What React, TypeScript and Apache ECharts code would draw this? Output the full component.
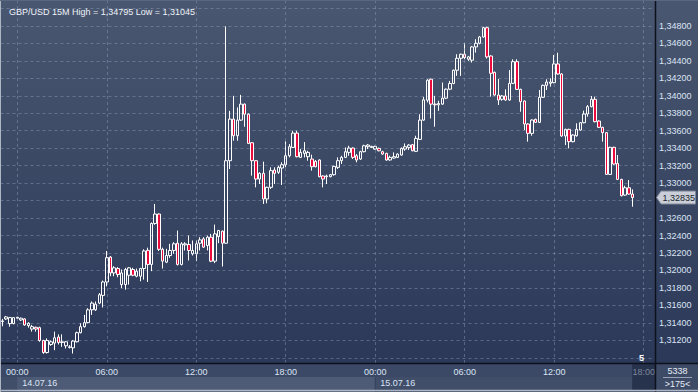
import { useEffect, useRef } from 'react';
import * as echarts from 'echarts';

// ---- data -----------------------------------------------------------------
const FIRST_SLOT_UTC = Date.UTC(2016, 6, 13, 23, 0); // 13.07.16 23:00, 15-minute bars
const SLOT_MINUTES = 15;
const SLOT_COUNT = 175; // visible bars (">175<")

const opens = [
  1.31414, 1.31445, 1.31391, 1.31391, 1.31453, 1.31433, 1.31445, 1.31368, 1.31329, 1.31349,
  1.31345, 1.31198, 1.31060, 1.31152, 1.31168, 1.31237, 1.31175, 1.31137, 1.31118, 1.31114,
  1.31183, 1.31287, 1.31356, 1.31402, 1.31549, 1.31549, 1.31626, 1.31714, 1.31868, 1.32153,
  1.31972, 1.32022, 1.31838, 1.31838, 1.31945, 1.32011, 1.31934, 1.31934, 1.32022, 1.32230,
  1.32069, 1.32538, 1.32646, 1.32242, 1.32095, 1.32171, 1.32229, 1.32312, 1.32069, 1.32293,
  1.32297, 1.32191, 1.32191, 1.32312, 1.32362, 1.32286, 1.32381, 1.32106, 1.32388, 1.32450,
  1.32312, 1.33257, 1.33733, 1.33543, 1.33722, 1.33905, 1.33790, 1.33463, 1.33257, 1.33047,
  1.33112, 1.32819, 1.32952, 1.33150, 1.33124, 1.33173, 1.33211, 1.33314, 1.33409, 1.33573,
  1.33295, 1.33341, 1.33303, 1.33276, 1.33249, 1.33265, 1.33082, 1.33074, 1.33074, 1.33097,
  1.33181, 1.33257, 1.33295, 1.33352, 1.33402, 1.33314, 1.33276, 1.33360, 1.33417, 1.33409,
  1.33390, 1.33398, 1.33360, 1.33341, 1.33265, 1.33287, 1.33295, 1.33322, 1.33390, 1.33409,
  1.33440, 1.33364, 1.33501, 1.33722, 1.33950, 1.34190, 1.33905, 1.33897, 1.33905, 1.33973,
  1.34076, 1.34141, 1.34293, 1.34430, 1.34476, 1.34419, 1.34408, 1.34560, 1.34602, 1.34674,
  1.34780, 1.34456, 1.34269, 1.34009, 1.33960, 1.33998, 1.33952, 1.34143, 1.34391, 1.34074,
  1.33941, 1.33677, 1.33570, 1.33731, 1.33696, 1.33983, 1.34120, 1.34143, 1.34151, 1.34365,
  1.34250, 1.33540, 1.33616, 1.33475, 1.33543, 1.33608, 1.33692, 1.33792, 1.33876, 1.33960,
  1.33711, 1.33639, 1.33578, 1.33100, 1.33410, 1.33226, 1.33043, 1.32863, 1.32947, 1.32875,
];
const closes = [
  1.31422, 1.31468, 1.31460, 1.31460, 1.31464, 1.31453, 1.31376, 1.31395, 1.31356, 1.31329,
  1.31198, 1.31060, 1.31198, 1.31183, 1.31229, 1.31175, 1.31183, 1.31183, 1.31125, 1.31191,
  1.31287, 1.31356, 1.31402, 1.31549, 1.31626, 1.31614, 1.31722, 1.31868, 1.32146, 1.31972,
  1.32030, 1.31953, 1.31972, 1.32011, 1.32030, 1.31945, 1.31992, 1.32022, 1.32223, 1.32069,
  1.32538, 1.32646, 1.32242, 1.32107, 1.32171, 1.32229, 1.32305, 1.32069, 1.32305, 1.32305,
  1.32229, 1.32229, 1.32305, 1.32350, 1.32267, 1.32381, 1.32106, 1.32419, 1.32457, 1.32312,
  1.33257, 1.33733, 1.33543, 1.33722, 1.33905, 1.33790, 1.33455, 1.33257, 1.33047, 1.33112,
  1.32819, 1.32952, 1.33143, 1.33112, 1.33181, 1.33211, 1.33314, 1.33417, 1.33573, 1.33303,
  1.33352, 1.33371, 1.33352, 1.33188, 1.33188, 1.33074, 1.33047, 1.33082, 1.33097, 1.33192,
  1.33257, 1.33295, 1.33360, 1.33402, 1.33295, 1.33265, 1.33360, 1.33428, 1.33436, 1.33421,
  1.33421, 1.33371, 1.33333, 1.33265, 1.33295, 1.33303, 1.33333, 1.33398, 1.33417, 1.33436,
  1.33371, 1.33512, 1.33722, 1.33954, 1.34179, 1.33905, 1.33897, 1.33912, 1.33973, 1.34076,
  1.34141, 1.34293, 1.34430, 1.34476, 1.34438, 1.34446, 1.34560, 1.34602, 1.34674, 1.34780,
  1.34446, 1.34258, 1.34009, 1.33952, 1.33998, 1.33952, 1.34143, 1.34391, 1.34074, 1.33933,
  1.33677, 1.33570, 1.33723, 1.33696, 1.33983, 1.34120, 1.34158, 1.34158, 1.34365, 1.34250,
  1.33540, 1.33616, 1.33475, 1.33551, 1.33616, 1.33692, 1.33792, 1.33876, 1.33960, 1.33704,
  1.33639, 1.33578, 1.33100, 1.33410, 1.33219, 1.33043, 1.32856, 1.32947, 1.32875, 1.32835,
];
const lows = [
  1.31360, 1.31433, 1.31356, 1.31383, 1.31445, 1.31422, 1.31368, 1.31345, 1.31299, 1.31299,
  1.31183, 1.31045, 1.31048, 1.31137, 1.31087, 1.31152, 1.31125, 1.31106, 1.31106, 1.31048,
  1.31175, 1.31279, 1.31345, 1.31395, 1.31491, 1.31537, 1.31614, 1.31576, 1.31818, 1.31934,
  1.31934, 1.31922, 1.31799, 1.31780, 1.31838, 1.31934, 1.31922, 1.31876, 1.31895, 1.31868,
  1.31992, 1.32523, 1.32223, 1.32022, 1.32084, 1.32144, 1.32191, 1.32057, 1.32057, 1.32229,
  1.32114, 1.32171, 1.32106, 1.32229, 1.32259, 1.32229, 1.32095, 1.32084, 1.32312, 1.32045,
  1.32305, 1.33162, 1.33486, 1.33486, 1.33714, 1.33646, 1.33447, 1.33086, 1.32952, 1.32990,
  1.32762, 1.32769, 1.32933, 1.32990, 1.33105, 1.32979, 1.33181, 1.33295, 1.33402, 1.33295,
  1.33287, 1.33295, 1.33257, 1.33143, 1.33181, 1.33067, 1.32952, 1.32990, 1.33067, 1.33086,
  1.33162, 1.33219, 1.33287, 1.33314, 1.33276, 1.33238, 1.33265, 1.33352, 1.33390, 1.33402,
  1.33383, 1.33364, 1.33326, 1.33257, 1.33257, 1.33280, 1.33287, 1.33314, 1.33371, 1.33379,
  1.33364, 1.33356, 1.33493, 1.33714, 1.33924, 1.33741, 1.33646, 1.33828, 1.33897, 1.33962,
  1.34065, 1.34133, 1.34229, 1.34229, 1.34419, 1.34400, 1.34381, 1.34495, 1.34590, 1.34667,
  1.34427, 1.33990, 1.34002, 1.33895, 1.33944, 1.33944, 1.33944, 1.34135, 1.34067, 1.33818,
  1.33608, 1.33475, 1.33543, 1.33688, 1.33688, 1.33975, 1.34067, 1.34105, 1.34143, 1.34242,
  1.33532, 1.33436, 1.33398, 1.33467, 1.33532, 1.33601, 1.33685, 1.33761, 1.33868, 1.33696,
  1.33631, 1.33475, 1.33093, 1.33093, 1.33211, 1.33035, 1.32848, 1.32856, 1.32867, 1.32730,
];
const highs = [
  1.31445, 1.31479, 1.31468, 1.31460, 1.31468, 1.31460, 1.31453, 1.31406, 1.31376, 1.31356,
  1.31356, 1.31206, 1.31222, 1.31198, 1.31299, 1.31268, 1.31268, 1.31191, 1.31145, 1.31202,
  1.31299, 1.31395, 1.31491, 1.31568, 1.31645, 1.31645, 1.31741, 1.31884, 1.32223, 1.32165,
  1.32049, 1.32038, 1.32011, 1.32030, 1.32038, 1.32030, 1.32022, 1.32030, 1.32242, 1.32261,
  1.32550, 1.32762, 1.32654, 1.32261, 1.32248, 1.32305, 1.32324, 1.32457, 1.32324, 1.32324,
  1.32400, 1.32343, 1.32343, 1.32381, 1.32381, 1.32400, 1.32419, 1.32525, 1.32465, 1.32457,
  1.34795, 1.33828, 1.34000, 1.33867, 1.34011, 1.33912, 1.33798, 1.33470, 1.33265, 1.33124,
  1.33246, 1.32960, 1.33181, 1.33181, 1.33200, 1.33238, 1.33478, 1.33447, 1.33600, 1.33600,
  1.33390, 1.33470, 1.33371, 1.33326, 1.33265, 1.33272, 1.33089, 1.33097, 1.33105, 1.33200,
  1.33295, 1.33314, 1.33409, 1.33428, 1.33409, 1.33333, 1.33371, 1.33440, 1.33447, 1.33428,
  1.33428, 1.33406, 1.33371, 1.33348, 1.33314, 1.33352, 1.33341, 1.33409, 1.33455, 1.33447,
  1.33447, 1.33543, 1.33790, 1.33988, 1.34190, 1.34198, 1.34000, 1.33943, 1.34152, 1.34084,
  1.34171, 1.34301, 1.34476, 1.34484, 1.34602, 1.34457, 1.34571, 1.34648, 1.34686, 1.34790,
  1.34792, 1.34464, 1.34277, 1.34193, 1.34009, 1.34074, 1.34296, 1.34418, 1.34418, 1.34082,
  1.33948, 1.33685, 1.33731, 1.33738, 1.34067, 1.34128, 1.34189, 1.34200, 1.34468, 1.34494,
  1.34258, 1.33623, 1.33623, 1.33559, 1.33685, 1.33700, 1.33830, 1.33895, 1.33998, 1.33990,
  1.33719, 1.33646, 1.33585, 1.33417, 1.33417, 1.33322, 1.33050, 1.32970, 1.33035, 1.32928,
];

const Y_MIN = 1.3094;
const Y_MAX = 1.35086;
const Y_STEP = 0.002;
const Y_LABEL_MIN = 1.3115; // lowest printed level
const Y_LABEL_MAX = 1.3495; // highest printed level
const TITLE = 'GBP/USD 15M High = 1,34795 Low = 1,31045';
const BAR_TOTAL_TEXT = '5338';
const VISIBLE_TEXT = '>175<';
const SHIFT_TEXT = '5';

// ---- helpers --------------------------------------------------------------
const pad = (n: number) => (n < 10 ? '0' + n : '' + n);
const slots: string[] = Array.from({ length: SLOT_COUNT }, (_, i) => {
  const d = new Date(FIRST_SLOT_UTC + i * SLOT_MINUTES * 60000);
  return `${pad(d.getUTCDate())}.${pad(d.getUTCMonth() + 1)}.${pad(d.getUTCFullYear() % 100)} ${pad(
    d.getUTCHours()
  )}:${pad(d.getUTCMinutes())}`;
});
const timeOf = (v: string) => v.slice(9);
const dateOf = (v: string) => v.slice(0, 8);
const isSixHour = (v: string) => {
  const hh = +v.slice(9, 11);
  const mm = +v.slice(12, 14);
  return mm === 0 && hh % 6 === 0;
};
const isMidnight = (v: string) => timeOf(v) === '00:00';
const fmtPrice = (v: number) => v.toFixed(5).replace('.', ',');

const FONT = '"Liberation Sans", Arial, sans-serif';
const LABEL_COLOR = '#dbe5f4';
const GRID_COLOR = 'rgba(150,166,196,0.42)';
const W = 698;
const H = 392;
const AXIS_Y = 363;
const AXIS_X = 655;

export default function App() {
  const ref = useRef<HTMLDivElement>(null);

  useEffect(() => {
    if (!ref.current) return;
    document.body.style.margin = '0';
    const chart = echarts.init(ref.current, undefined, { renderer: 'svg', width: W, height: H });

    const candleData = opens.map((o, i) => [o, closes[i], lows[i], highs[i]]);
    const sixHourSlots = slots.filter(isSixHour);
    const lastClose = closes[closes.length - 1];

    chart.setOption({
      animation: false,
      backgroundColor: 'transparent',
      textStyle: { fontFamily: FONT },
      title: {
        text: TITLE,
        left: 4,
        top: 2,
        textStyle: { fontFamily: FONT, fontSize: 9, fontWeight: 'normal', color: '#eef3fa' },
      },
      grid: { left: 0.5, right: 45, top: 1, bottom: H - AXIS_Y, containLabel: false },
      xAxis: [
        {
          type: 'category',
          data: slots,
          boundaryGap: true,
          axisLine: { show: false },
          axisTick: { show: false },
          splitLine: { show: false },
          axisLabel: {
            interval: (_i: number, v: string) => isSixHour(v),
            formatter: (v: string, i: number) =>
              i >= opens.length ? `{g|${timeOf(v)}}` : timeOf(v),
            color: LABEL_COLOR,
            fontSize: 9,
            fontFamily: FONT,
            margin: 4,
            rich: { g: { color: '#7d879b', fontSize: 9, fontFamily: FONT } },
          },
        },
        {
          type: 'category',
          data: slots,
          boundaryGap: true,
          position: 'bottom',
          offset: 11,
          axisLine: { show: false },
          axisTick: { show: false },
          splitLine: { show: false },
          axisLabel: {
            interval: (_i: number, v: string) => isMidnight(v),
            formatter: (v: string) => dateOf(v),
            align: 'left',
            padding: [0, 0, 0, 5],
            color: LABEL_COLOR,
            fontSize: 9,
            fontFamily: FONT,
            margin: 4,
          },
        },
      ],
      yAxis: {
        type: 'value',
        position: 'right',
        min: Y_MIN,
        max: Y_MAX,
        splitNumber: 20,
        scale: true,
        axisLine: { show: false },
        axisTick: { show: false },
        splitLine: {
          show: true,
          showMinLine: false,
          showMaxLine: false,
          lineStyle: { color: GRID_COLOR, type: [3, 3], width: 1 },
        },
        axisLabel: {
          showMinLabel: false,
          showMaxLabel: false,
          margin: 6,
          color: LABEL_COLOR,
          fontSize: 9,
          fontFamily: FONT,
          formatter: (v: number) => {
            const k = Math.round(v / Y_STEP);
            if (Math.abs(k * Y_STEP - v) > 1e-7) return '';
            if (v > Y_LABEL_MAX || v < Y_LABEL_MIN) return '';
            // the last-price tag covers the level next to it
            if (Math.abs(v - lastClose) < 0.0009) return '';
            return fmtPrice(v);
          },
        },
      },
      series: [
        {
          type: 'candlestick',
          data: candleData,
          barWidth: 3,
          xAxisIndex: 0,
          yAxisIndex: 0,
          silent: true,
          itemStyle: {
            color: 'rgba(0,0,0,0)',
            color0: '#ea0a3c',
            borderColor: '#ffffff',
            borderColor0: '#ffffff',
            borderColorDoji: '#ffffff',
            borderWidth: 1,
          },
          markLine: {
            silent: true,
            symbol: ['none', 'none'],
            label: { show: false },
            lineStyle: { color: GRID_COLOR, type: [3, 3], width: 1 },
            data: sixHourSlots.map((s) => ({ xAxis: s })),
          },
        },
      ],
    });

    const px = (s: string) => chart.convertToPixel({ xAxisIndex: 0 }, s) as number;
    const firstMid = slots.findIndex(isMidnight);
    const secondMid = slots.findIndex((v, i) => i > firstMid && isMidnight(v));
    const x1 = px(slots[firstMid]);
    const x2 = px(slots[secondMid]);
    const futureX = px(slots[opens.length + 2]);
    const yTag = chart.convertToPixel({ yAxisIndex: 0 }, lastClose) as number;

    chart.setOption({
      graphic: [
        // bottom axis strip
        { type: 'rect', z: -10, shape: { x: 0, y: AXIS_Y, width: W, height: H - AXIS_Y }, style: { fill: '#3c4966' } },
        { type: 'rect', z: -9, shape: { x: 0, y: 377, width: W, height: H - 377 }, style: { fill: '#414e6a' } },
        { type: 'rect', z: -8, shape: { x: x1, y: 377, width: x2 - x1, height: H - 377 }, style: { fill: '#4e5b76' } },
        { type: 'line', z: -7, shape: { x1: x2, y1: 377, x2: x2, y2: H }, style: { stroke: '#34405b', lineWidth: 1 } },
        { type: 'rect', z: -7, shape: { x: futureX - 11.5, y: AXIS_Y + 1, width: AXIS_X - futureX + 11.5, height: H - AXIS_Y - 2 }, style: { fill: '#27324c' } },
        // right-bottom info cell
        { type: 'rect', z: 5, shape: { x: AXIS_X, y: AXIS_Y, width: W - AXIS_X, height: H - AXIS_Y }, style: { fill: '#3e4b67' } },
        { type: 'text', z: 6, x: 677.5, y: 370.5, style: { text: BAR_TOTAL_TEXT, fill: '#e6ecf6', font: `9px ${FONT}`, align: 'center', verticalAlign: 'middle' } },
        { type: 'line', z: 6, shape: { x1: 663, y1: 377.5, x2: 692, y2: 377.5 }, style: { stroke: '#9aa3b3', lineWidth: 1 } },
        { type: 'text', z: 6, x: 677.5, y: 384, style: { text: VISIBLE_TEXT, fill: '#e6ecf6', font: `9px ${FONT}`, align: 'center', verticalAlign: 'middle' } },
        { type: 'text', z: 6, x: 641.5, y: 357.5, style: { text: SHIFT_TEXT, fill: '#ffffff', font: `bold 9px ${FONT}`, align: 'center', verticalAlign: 'middle' } },
        // separators
        { type: 'line', z: 8, shape: { x1: 0, y1: AXIS_Y + 0.5, x2: W, y2: AXIS_Y + 0.5 }, style: { stroke: '#0c111d', lineWidth: 1.5 } },
        { type: 'line', z: 8, shape: { x1: AXIS_X + 0.5, y1: 0, x2: AXIS_X + 0.5, y2: H }, style: { stroke: '#0c111d', lineWidth: 1.5 } },
        // outer frame
        { type: 'line', z: 9, shape: { x1: 0.5, y1: 0, x2: 0.5, y2: H }, style: { stroke: '#aeb6c3', lineWidth: 1 } },
        { type: 'line', z: 9, shape: { x1: 0, y1: H - 1.5, x2: W, y2: H - 1.5 }, style: { stroke: '#aeb6c3', lineWidth: 1.5 } },
        { type: 'line', z: 9, shape: { x1: 0, y1: 0.5, x2: W, y2: 0.5 }, style: { stroke: '#5a6781', lineWidth: 1 } },
        // last price tag
        {
          type: 'polygon',
          z: 10,
          shape: {
            points: [
              [656.5, yTag],
              [661, yTag - 6.5],
              [695.5, yTag - 6.5],
              [695.5, yTag + 6.5],
              [661, yTag + 6.5],
            ],
          },
          style: { fill: '#c9ced8', stroke: '#7d8595', lineWidth: 1 },
        },
        { type: 'text', z: 11, x: 662.5, y: yTag + 0.5, style: { text: fmtPrice(lastClose), fill: '#1b1f2a', font: `9px ${FONT}`, align: 'left', verticalAlign: 'middle' } },
      ],
    });

    return () => chart.dispose();
  }, []);

  return (
    <div
      ref={ref}
      style={{
        position: 'fixed',
        left: 0,
        top: 0,
        width: W,
        height: H,
        background: 'linear-gradient(to bottom, #4a5770 0px, #2b3858 363px, #2b3858 392px)',
      }}
    />
  );
}
